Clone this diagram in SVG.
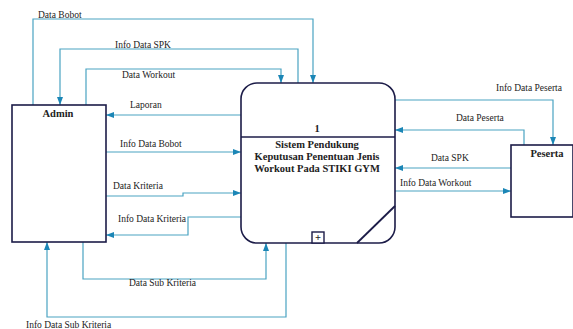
<svg xmlns="http://www.w3.org/2000/svg" width="573" height="329" viewBox="0 0 573 329">
<defs>
<marker id="ah" markerWidth="8" markerHeight="6" refX="8" refY="3" orient="auto" markerUnits="userSpaceOnUse">
<path d="M0,0 L8,3 L0,6 Z" fill="#1b86b6"/>
</marker>
<style>
.c{fill:none;stroke:#4aa3c2;stroke-width:1.2;marker-end:url(#ah)}
.b{fill:#fff;stroke:#1c1c48;stroke-width:1.6}
.t{font-family:"Liberation Serif",serif;font-size:9.5px;fill:#222}
.h{font-family:"Liberation Serif",serif;font-size:10.5px;font-weight:bold;fill:#222}
</style>
</defs>
<rect width="573" height="329" fill="#fff"/>
<g id="connectors">
<polyline class="c" points="33,105 33,19 313,19 313,83"/>
<polyline class="c" points="298,83 298,49 60,49 60,105"/>
<polyline class="c" points="86,105 86,69 281,69 281,83"/>
<polyline class="c" points="241,115 106,115"/>
<polyline class="c" points="106,152 241,152"/>
<polyline class="c" points="106,196 183,196 183,193 241,193"/>
<polyline class="c" points="241,217 188,217 188,235 106,235"/>
<polyline class="c" points="83,242 83,279 266,279 266,243"/>
<polyline class="c" points="286,243 286,317 47,317 47,242"/>
<polyline class="c" points="395,100 553,100 553,145"/>
<polyline class="c" points="524,145 524,130 395,130"/>
<polyline class="c" points="511,168 395,168"/>
<polyline class="c" points="395,191 511,191"/>
<text class="t" x="38" y="18">Data Bobot</text>
<text class="t" x="115" y="48">Info Data SPK</text>
<text class="t" x="122" y="78">Data Workout</text>
<text class="t" x="130" y="108">Laporan</text>
<text class="t" x="120" y="147">Info Data Bobot</text>
<text class="t" x="113" y="189">Data Kriteria</text>
<text class="t" x="118" y="222">Info Data Kriteria</text>
<text class="t" x="129" y="286">Data Sub Kriteria</text>
<text class="t" x="26" y="328">Info Data Sub Kriteria</text>
<text class="t" x="496" y="91">Info Data Peserta</text>
<text class="t" x="456" y="121">Data Peserta</text>
<text class="t" x="431" y="161">Data SPK</text>
<text class="t" x="400" y="186">Info Data Workout</text>
</g>
<g id="admin">
<rect class="b" x="12" y="105" width="94" height="137"/>
<text class="h" x="58" y="117" text-anchor="middle">Admin</text>
</g>
<g id="peserta">
<rect class="b" x="511" y="145" width="62" height="72"/>
<text class="h" x="547" y="157" text-anchor="middle">Peserta</text>
</g>
<g id="process">
<rect class="b" x="241" y="83" width="154" height="160" rx="16" ry="16"/>
<line x1="241" y1="137" x2="395" y2="137" stroke="#1c1c48" stroke-width="1.6"/>
<line x1="357" y1="243" x2="395" y2="206" stroke="#1c1c48" stroke-width="1.8"/>
<rect x="312" y="232" width="12" height="11" fill="#fff" stroke="#1c1c48" stroke-width="1.4"/>
<text class="h" x="318" y="241" text-anchor="middle" font-size="9">+</text>
<text class="h" x="317" y="132" text-anchor="middle">1</text>
<text class="h" x="317" y="148" text-anchor="middle">Sistem Pendukung</text>
<text class="h" x="317" y="160" text-anchor="middle">Keputusan Penentuan Jenis</text>
<text class="h" x="317" y="172" text-anchor="middle">Workout Pada STIKI GYM</text>
</g>
</svg>
